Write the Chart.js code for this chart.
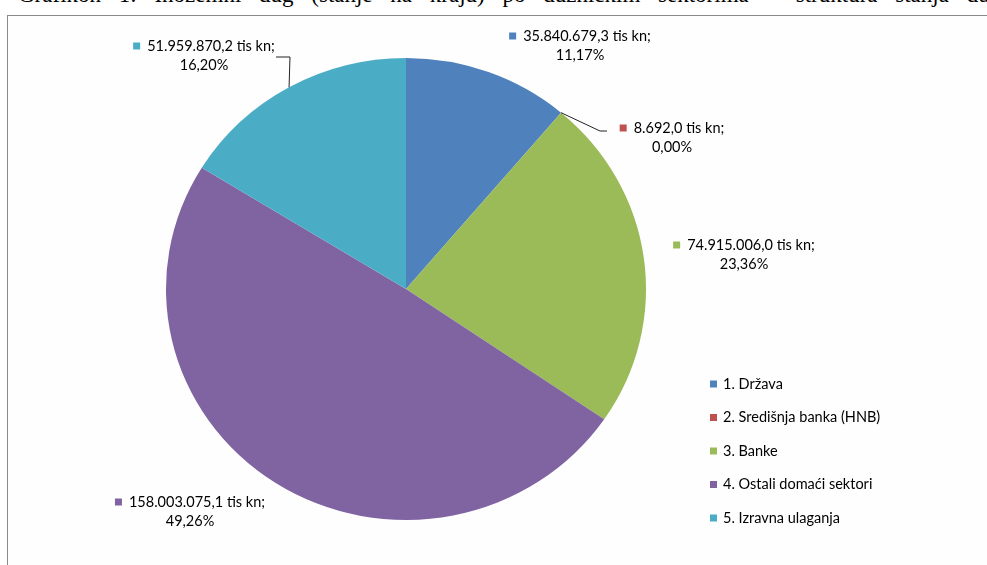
<!DOCTYPE html>
<html>
<head>
<meta charset="utf-8">
<script src="https://cdn.jsdelivr.net/npm/chart.js@4.4.1/dist/chart.umd.min.js"></script>
<style>
  html, body { margin: 0; padding: 0; background: #fff; overflow: hidden; }
  #wrap { position: relative; width: 987px; height: 565px; }
  #title {
    position: absolute; left: 18px; top: -18px; white-space: nowrap;
    font-family: "Liberation Serif", serif; font-size: 23px; color: #000;
    word-spacing: 12px;
  }
  #frame {
    position: absolute; left: 7px; top: 15px; width: 990px; height: 560px;
    border-left: 1px solid #8a8a8a; border-top: 1px solid #8a8a8a;
    background: #fefefe;
  }
  canvas { position: absolute; left: 0; top: 0; }
</style>
</head>
<body>
<div id="wrap">
  <div id="title">Grafikon 1: Inozemni dug (stanje na kraju) po dužničkim sektorima – struktura stanja duga</div>
  <div id="frame"></div>
  <canvas id="pieChart" width="987" height="565"></canvas>
</div>
<script>
// Sectors and outstanding debt (tis kn)
const sectors = ["1. Država", "2. Središnja banka (HNB)", "3. Banke", "4. Ostali domaći sektori", "5. Izravna ulaganja"];
const debt = [35840679.3, 8692.0, 74915006.0, 158003075.1, 51959870.2];
const colors = ["#4F81BD", "#C0504D", "#9BBB59", "#8064A2", "#4BACC6"];

// Label placement (centre of text block) and optional leader-line points
const labelPos = [
  { x: 580, y: 36 },
  { x: 672, y: 128, lead: [[607, 131], [600, 131]] },
  { x: 744, y: 245 },
  { x: 190, y: 502 },
  { x: 204, y: 46, lead: [[276, 57], [290, 57]] }
];

const FONT = '14.5px Lato, "Open Sans", sans-serif';
const STRETCH_X = 1.039; // pie in the picture is slightly wider than tall

// Croatian number format: 35.840.679,3
function fmt(v, dec) {
  const parts = v.toFixed(dec).split(".");
  parts[0] = parts[0].replace(/\B(?=(\d{3})+(?!\d))/g, ".");
  return parts.join(",");
}

const total = debt.reduce((a, b) => a + b, 0);

// stretch the pie horizontally around its centre
const stretchPlugin = {
  id: "stretch",
  beforeDatasetsDraw(chart) {
    const arc = chart.getDatasetMeta(0).data[0];
    const ctx = chart.ctx;
    ctx.save();
    ctx.translate(arc.x, arc.y);
    ctx.scale(STRETCH_X, 1);
    ctx.translate(-arc.x, -arc.y);
  },
  afterDatasetsDraw(chart) {
    chart.ctx.restore();
  }
};

const labelPlugin = {
  id: "excelLabels",
  afterDraw(chart) {
    const ctx = chart.ctx;
    const meta = chart.getDatasetMeta(0);
    ctx.save();
    ctx.font = FONT;
    ctx.textBaseline = "middle";

    meta.data.forEach((arc, i) => {
      const p = labelPos[i];
      const line1 = fmt(debt[i], 1) + " tis kn;";
      const line2 = fmt(debt[i] / total * 100, 2) + "%";

      // leader line from arc edge to label
      if (p.lead) {
        const mid = (arc.startAngle + arc.endAngle) / 2;
        const ax = arc.x + Math.cos(mid) * arc.outerRadius * STRETCH_X;
        const ay = arc.y + Math.sin(mid) * arc.outerRadius;
        ctx.strokeStyle = "#222";
        ctx.lineWidth = 1;
        ctx.beginPath();
        ctx.moveTo(ax, ay);
        ctx.lineTo(p.lead[1][0], p.lead[1][1]);
        ctx.lineTo(p.lead[0][0], p.lead[0][1]);
        ctx.stroke();
      }

      const w1 = ctx.measureText(line1).width;
      const boxW = 7, gap = 7;
      const left = p.x - (w1 + boxW + gap) / 2;
      ctx.fillStyle = colors[i];
      ctx.fillRect(left, p.y - 3.5, boxW, boxW);
      ctx.fillStyle = "#000";
      ctx.textAlign = "left";
      ctx.fillText(line1, left + boxW + gap, p.y);
      ctx.textAlign = "center";
      ctx.fillText(line2, p.x, p.y + 19);
    });

    // legend on the right
    ctx.textAlign = "left";
    sectors.forEach((s, i) => {
      const y = 384 + i * 33.5;
      ctx.fillStyle = colors[i];
      ctx.fillRect(710, y - 3.5, 7, 7);
      ctx.fillStyle = "#000";
      ctx.fillText(s, 723, y);
    });
    ctx.restore();
  }
};

new Chart(document.getElementById("pieChart"), {
  type: "pie",
  data: {
    labels: sectors,
    datasets: [{
      data: debt,
      backgroundColor: colors,
      borderWidth: 0
    }]
  },
  options: {
    responsive: false,
    animation: false,
    layout: { padding: { left: 175, right: 350, top: 58, bottom: 45 } },
    plugins: {
      legend: { display: false },
      tooltip: { enabled: false }
    }
  },
  plugins: [stretchPlugin, labelPlugin]
});
</script>
</body>
</html>
